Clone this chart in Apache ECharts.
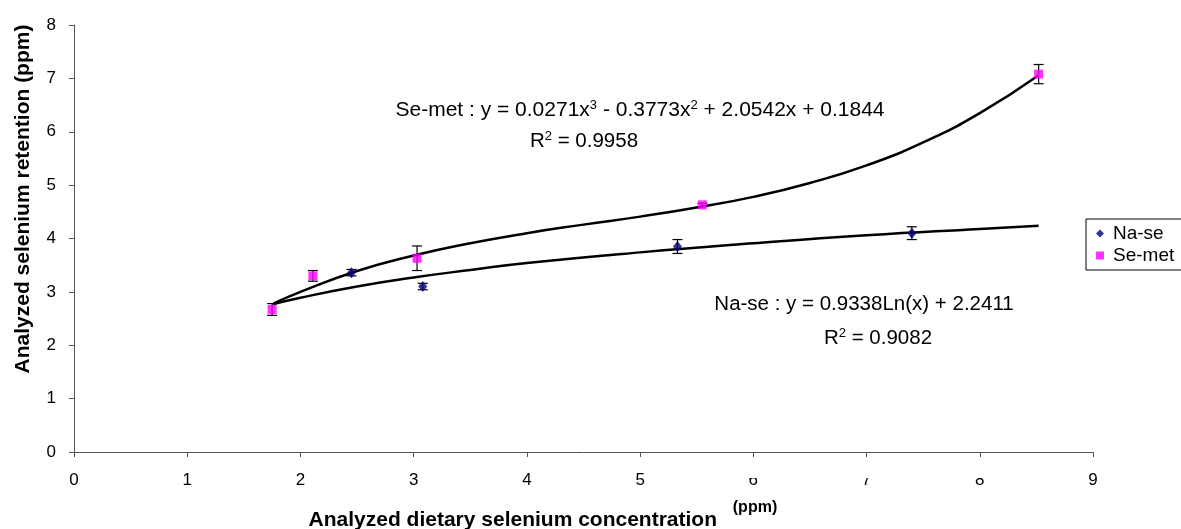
<!DOCTYPE html>
<html>
<head>
<meta charset="utf-8">
<script src="https://cdn.jsdelivr.net/npm/echarts@6/dist/echarts.min.js"></script>
<style>
  html, body { margin: 0; padding: 0; background: #fff; }
  #chart { width: 1181px; height: 529px; }
</style>
</head>
<body>
<div id="chart"></div>
<script>
// measured points
const naseX = [2.45, 3.08, 5.33, 7.40];
const naseY = [3.36, 3.10, 3.85, 4.10];
const naseErr = [0.06, 0.06, 0.13, 0.12];

const semetX = [1.75, 2.11, 3.03, 5.55, 8.52];
const semetY = [2.67, 3.30, 3.63, 4.63, 7.08];
const semetErr = [0.11, 0.10, 0.23, 0.03, 0.18];

// trendlines
const naseTrendX = [1.76, 2, 2.5, 3, 3.5, 4, 5, 6, 7, 8, 8.52];
const naseTrendY = [2.77, 2.89, 3.10, 3.27, 3.41, 3.54, 3.74, 3.91, 4.06, 4.18, 4.24];
const semetTrendX = [1.76, 2, 2.5, 3, 3.5, 4, 4.5, 5, 5.5, 6, 6.5, 7, 7.5, 8, 8.52];
const semetTrendY = [2.78, 3.00, 3.39, 3.68, 3.91, 4.10, 4.26, 4.41, 4.58, 4.78, 5.04, 5.37, 5.80, 6.35, 7.06];

const FONT = 'Liberation Sans, Arial, sans-serif';

const zip = (xs, ys) => xs.map((x, i) => [x, ys[i]]);
const errData = (xs, ys, es) => xs.map((x, i) => [x, ys[i] - es[i], ys[i] + es[i]]);

const renderErr = (params, api) => {
    const x = api.value(0);
    const lo = api.coord([x, api.value(1)]);
    const hi = api.coord([x, api.value(2)]);
    const w = 5;
    const style = { stroke: '#000', lineWidth: 1.2 };
    return {
        type: 'group',
        children: [
            { type: 'line', shape: { x1: lo[0], y1: lo[1], x2: hi[0], y2: hi[1] }, style },
            { type: 'line', shape: { x1: lo[0] - w, y1: lo[1], x2: lo[0] + w, y2: lo[1] }, style },
            { type: 'line', shape: { x1: hi[0] - w, y1: hi[1], x2: hi[0] + w, y2: hi[1] }, style },
        ],
    };
};

const richOf = fs => ({
    n: { fontSize: fs, fontFamily: FONT, fill: '#000' },
    s: { fontSize: 13, fontFamily: FONT, fill: '#000', verticalAlign: 'top', padding: [0, 0, 9, 0] },
});

const chart = echarts.init(document.getElementById('chart'));
chart.setOption({
    animation: false,
    textStyle: { fontFamily: FONT },
    grid: { left: 74, right: 88, top: 25, bottom: 77 },
    legend: {
        orient: 'vertical',
        left: 1086,
        top: 219,
        data: ['Na-se', 'Se-met'],
        itemWidth: 8,
        itemHeight: 8,
        itemGap: 3,
        padding: [5, 10, 5, 10],
        borderColor: '#000',
        borderWidth: 1,
        textStyle: { fontSize: 19, color: '#000', fontFamily: FONT, padding: [0, 0, 0, 4] },
    },
    xAxis: {
        type: 'value',
        min: 0,
        max: 9,
        interval: 1,
        splitLine: { show: false },
        axisLine: { lineStyle: { color: '#555' } },
        axisTick: { length: 5, lineStyle: { color: '#555' } },
        axisLabel: { fontSize: 17, color: '#000', margin: 20 },
    },
    yAxis: {
        type: 'value',
        min: 0,
        max: 8,
        interval: 1,
        splitLine: { show: false },
        axisLine: { show: true, lineStyle: { color: '#555' } },
        axisTick: { show: true, length: 5, lineStyle: { color: '#555' } },
        axisLabel: { fontSize: 17, color: '#000', margin: 18 },
    },
    series: [
        {
            name: 'Na-se trend', type: 'line', smooth: true, symbol: 'none',
            data: zip(naseTrendX, naseTrendY),
            lineStyle: { color: '#000', width: 2.5 }, z: 2,
        },
        {
            name: 'Se-met trend', type: 'line', smooth: true, symbol: 'none',
            data: zip(semetTrendX, semetTrendY),
            lineStyle: { color: '#000', width: 2.5 }, z: 2,
        },
        {
            name: 'Na-se err', type: 'custom', renderItem: renderErr,
            data: errData(naseX, naseY, naseErr), z: 3,
        },
        {
            name: 'Se-met err', type: 'custom', renderItem: renderErr,
            data: errData(semetX, semetY, semetErr), z: 3,
        },
        {
            name: 'Na-se', type: 'scatter', symbol: 'diamond', symbolSize: [9, 11],
            data: zip(naseX, naseY), itemStyle: { color: '#000080' }, z: 4,
        },
        {
            name: 'Se-met', type: 'scatter', symbol: 'rect', symbolSize: 9,
            data: zip(semetX, semetY), itemStyle: { color: '#ff00ff' }, z: 4,
        },
    ],
    graphic: [
        {
            type: 'text', z: 10,
            style: {
                x: 640, y: 110, align: 'center', verticalAlign: 'middle',
                text: '{n|Se-met : y = 0.0271x}{s|3}{n| - 0.3773x}{s|2}{n| + 2.0542x + 0.1844}',
                rich: richOf(21),
            },
        },
        {
            type: 'text', z: 10,
            style: {
                x: 584, y: 141, align: 'center', verticalAlign: 'middle',
                text: '{n|R}{s|2}{n| = 0.9958}',
                rich: richOf(20.5),
            },
        },
        {
            type: 'text', z: 10,
            style: {
                x: 864, y: 304, align: 'center', verticalAlign: 'middle',
                text: 'Na-se : y = 0.9338Ln(x) + 2.2411',
                fontSize: 20.5, fontFamily: FONT, fill: '#000',
            },
        },
        {
            type: 'text', z: 10,
            style: {
                x: 878, y: 338, align: 'center', verticalAlign: 'middle',
                text: '{n|R}{s|2}{n| = 0.9082}',
                rich: richOf(20.5),
            },
        },
        {
            // the x title box hides the top of some tick labels in the original
            type: 'rect', z: 20,
            shape: { x: 742, y: 462, width: 258, height: 16 },
            style: { fill: '#fff' },
        },
        {
            type: 'text', z: 21,
            style: {
                x: 717, y: 520, align: 'right', verticalAlign: 'middle',
                text: 'Analyzed dietary selenium concentration',
                fontSize: 21, fontWeight: 'bold', fontFamily: FONT, fill: '#000',
            },
        },
        {
            type: 'text', z: 21,
            style: {
                x: 755, y: 508, align: 'center', verticalAlign: 'middle',
                text: '(ppm)',
                fontSize: 16, fontWeight: 'bold', fontFamily: FONT, fill: '#000',
            },
        },
        {
            type: 'text', z: 21, rotation: Math.PI / 2,
            x: 23, y: 199,
            style: {
                x: 0, y: 0, align: 'center', verticalAlign: 'middle',
                text: 'Analyzed selenium retention (ppm)',
                fontSize: 21, fontWeight: 'bold', fontFamily: FONT, fill: '#000',
            },
        },
    ],
});
</script>
</body>
</html>
